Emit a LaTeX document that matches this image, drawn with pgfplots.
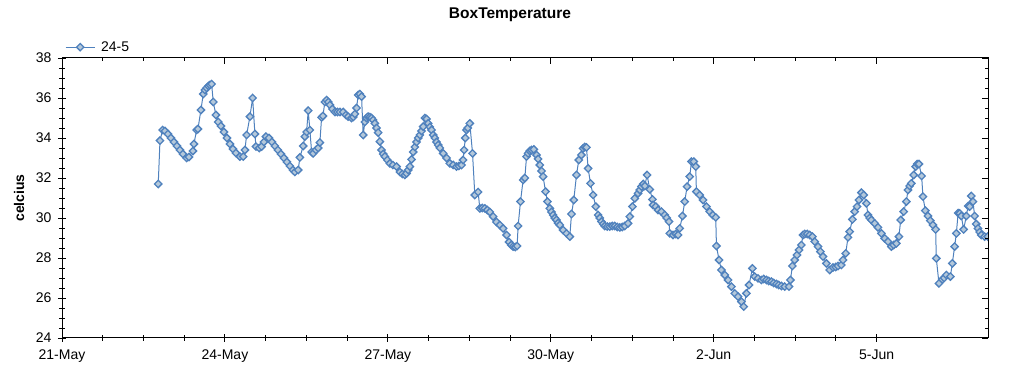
\documentclass[border=0pt]{standalone}
\usepackage{fontspec}
\setmainfont{Liberation Sans}
\usepackage{pgfplots}
\pgfplotsset{compat=1.18}
\definecolor{serline}{RGB}{79,129,189}
\definecolor{serfill}{RGB}{180,200,218}
\newcommand{\tickfont}{\fontsize{14bp}{16bp}\selectfont}
\newcommand{\titlefont}{\fontsize{15.5bp}{17bp}\selectfont\bfseries}
\begin{document}
\begin{tikzpicture}
\path[use as bounding box] (0bp,0bp) rectangle (1024bp,375bp);
\begin{axis}[
  at={(62bp,37bp)}, anchor=south west,
  scale only axis, width=926bp, height=280bp,
  xmin=0, xmax=17.05, ymin=24, ymax=38,
  xtick={0,3,6,9,12,15},
  xticklabels={21-May,24-May,27-May,30-May,2-Jun,5-Jun},
  minor x tick num=3,
  ytick={24,26,...,38}, minor y tick num=3,
  xtick pos=bottom, ytick pos=left, tick align=center,
  major tick length=8bp, minor tick length=6bp,
  tick style={black, line width=0.9bp},
  axis line style={black, line width=1bp},
  /pgf/number format/assume math mode=true,
  ticklabel style={font=\tickfont},
  xticklabel style={yshift=-4bp},
  yticklabel style={xshift=-3bp},
  ylabel={celcius},
  ylabel style={at={(axis description cs:-0.0464,0.5)}, anchor=center, font=\tickfont\bfseries},
  title={BoxTemperature},
  title style={at={(axis description cs:0.5,1)}, anchor=base, xshift=-15bp, yshift=34bp, font=\titlefont},
  legend style={at={(axis description cs:0,1)}, anchor=south west, draw=none, fill=none, font=\tickfont, yshift=1bp, column sep=4bp},
  legend image code/.code={\draw[mark repeat=2,mark phase=2,#1] plot coordinates {(0bp,0bp) (14.5bp,0bp) (29bp,0bp)};},
  clip marker paths=true,
]
\addplot[color=serline, line width=1bp, mark=square*, mark size=2.6bp,
  mark options={fill=serfill, draw=serline, line width=1.3bp, rotate=45}]
coordinates {
(1.772,31.7)(1.804,33.87)(1.853,34.4)(1.896,34.35)(1.951,34.2)(2.006,34.0)(2.061,33.8)(2.117,33.6)(2.172,33.4)(2.227,33.2)(2.295,33.0)(2.337,33.05)(2.411,33.35)(2.429,33.7)(2.479,34.4)(2.503,34.45)(2.558,35.4)(2.601,36.2)(2.632,36.4)(2.663,36.5)(2.696,36.6)(2.724,36.65)(2.755,36.7)(2.785,35.8)(2.834,35.15)(2.877,34.8)(2.926,34.6)(2.982,34.3)(3.037,34.0)(3.092,33.7)(3.147,33.45)(3.202,33.25)(3.276,33.07)(3.337,33.07)(3.368,33.4)(3.399,34.15)(3.460,35.07)(3.510,36.0)(3.552,34.2)(3.571,33.57)(3.631,33.5)(3.675,33.57)(3.718,33.8)(3.755,34.07)(3.810,34.0)(3.865,33.8)(3.920,33.6)(3.975,33.4)(4.031,33.2)(4.086,33.0)(4.141,32.8)(4.196,32.6)(4.252,32.4)(4.288,32.3)(4.349,32.4)(4.380,33.03)(4.441,33.6)(4.472,34.07)(4.504,34.3)(4.533,35.37)(4.564,34.4)(4.596,33.3)(4.625,33.23)(4.675,33.4)(4.717,33.5)(4.748,33.77)(4.780,35.03)(4.804,35.1)(4.840,35.8)(4.872,35.9)(4.905,35.8)(4.933,35.65)(4.979,35.45)(5.025,35.3)(5.071,35.3)(5.117,35.3)(5.177,35.3)(5.227,35.15)(5.269,35.07)(5.332,35.0)(5.365,35.05)(5.393,35.2)(5.424,35.5)(5.453,36.15)(5.485,36.2)(5.516,36.07)(5.545,34.15)(5.577,34.8)(5.608,35.0)(5.637,35.07)(5.669,35.05)(5.700,35.0)(5.729,34.9)(5.761,34.73)(5.792,34.5)(5.821,34.27)(5.853,33.82)(5.884,33.4)(5.914,33.2)(5.945,33.07)(5.991,32.9)(6.037,32.73)(6.092,32.65)(6.160,32.57)(6.221,32.3)(6.267,32.2)(6.313,32.15)(6.344,32.23)(6.374,32.4)(6.405,32.57)(6.436,32.93)(6.466,33.3)(6.497,33.55)(6.528,33.8)(6.558,34.0)(6.589,34.15)(6.620,34.35)(6.650,34.57)(6.681,35.0)(6.712,34.95)(6.742,34.73)(6.773,34.55)(6.804,34.4)(6.834,34.15)(6.865,34.0)(6.896,33.8)(6.926,33.65)(6.957,33.5)(7.018,33.23)(7.080,33.0)(7.141,32.73)(7.202,32.65)(7.264,32.57)(7.307,32.6)(7.356,32.65)(7.385,32.9)(7.404,33.4)(7.426,34.0)(7.448,34.4)(7.472,34.5)(7.509,34.73)(7.559,33.23)(7.601,31.15)(7.662,31.3)(7.693,30.48)(7.739,30.5)(7.785,30.48)(7.831,30.4)(7.877,30.3)(7.938,30.07)(8.000,29.8)(8.061,29.65)(8.122,29.48)(8.185,29.15)(8.232,28.8)(8.273,28.65)(8.306,28.57)(8.347,28.55)(8.380,28.6)(8.398,29.6)(8.442,30.82)(8.490,31.9)(8.522,32.0)(8.553,33.07)(8.582,33.23)(8.613,33.35)(8.645,33.4)(8.687,33.43)(8.737,33.15)(8.766,32.95)(8.798,32.65)(8.829,32.35)(8.858,32.07)(8.903,31.32)(8.939,30.82)(8.982,30.48)(9.013,30.3)(9.043,30.15)(9.074,30.0)(9.105,29.9)(9.134,29.75)(9.166,29.65)(9.226,29.4)(9.289,29.23)(9.350,29.07)(9.381,30.2)(9.423,30.9)(9.473,32.15)(9.515,32.9)(9.565,33.15)(9.594,33.48)(9.626,33.55)(9.657,33.53)(9.687,32.48)(9.731,31.73)(9.779,31.15)(9.828,30.57)(9.871,30.15)(9.902,30.0)(9.933,29.82)(9.963,29.7)(9.994,29.6)(10.040,29.57)(10.086,29.57)(10.132,29.6)(10.178,29.6)(10.224,29.55)(10.270,29.53)(10.316,29.55)(10.362,29.6)(10.423,29.73)(10.454,30.07)(10.504,30.57)(10.546,30.98)(10.607,31.23)(10.638,31.4)(10.669,31.57)(10.703,31.7)(10.730,31.6)(10.773,32.15)(10.822,31.43)(10.872,30.93)(10.883,30.65)(10.933,30.57)(10.974,30.4)(11.037,30.32)(11.098,30.15)(11.135,30.0)(11.177,29.82)(11.190,29.23)(11.251,29.15)(11.301,29.2)(11.343,29.15)(11.374,29.48)(11.424,30.1)(11.466,30.82)(11.509,31.57)(11.558,32.07)(11.590,32.82)(11.632,32.82)(11.669,32.57)(11.681,31.32)(11.742,31.15)(11.803,30.9)(11.866,30.57)(11.926,30.32)(11.982,30.15)(12.037,30.03)(12.050,28.6)(12.098,27.9)(12.142,27.4)(12.203,27.15)(12.263,26.9)(12.326,26.57)(12.387,26.23)(12.447,26.07)(12.510,25.82)(12.552,25.57)(12.602,26.23)(12.650,26.65)(12.712,27.48)(12.755,27.07)(12.815,26.98)(12.877,26.9)(12.920,26.95)(12.970,26.9)(13.012,26.85)(13.062,26.82)(13.104,26.75)(13.154,26.7)(13.196,26.65)(13.246,26.6)(13.307,26.57)(13.386,26.57)(13.412,26.9)(13.448,27.6)(13.491,27.9)(13.533,28.15)(13.570,28.4)(13.614,28.65)(13.644,29.15)(13.675,29.2)(13.721,29.2)(13.767,29.15)(13.817,29.07)(13.859,28.82)(13.920,28.57)(13.964,28.32)(14.012,28.07)(14.074,27.73)(14.135,27.4)(14.196,27.53)(14.245,27.55)(14.288,27.6)(14.350,27.65)(14.380,27.9)(14.430,28.23)(14.472,29.03)(14.503,29.32)(14.553,29.93)(14.595,30.32)(14.638,30.57)(14.674,30.9)(14.719,31.27)(14.761,31.15)(14.811,30.73)(14.840,30.15)(14.871,30.0)(14.902,29.9)(14.963,29.73)(15.024,29.53)(15.087,29.23)(15.147,28.98)(15.208,28.82)(15.271,28.57)(15.313,28.65)(15.363,28.73)(15.410,29.07)(15.442,29.9)(15.497,30.32)(15.547,30.82)(15.576,31.4)(15.607,31.6)(15.638,31.73)(15.681,32.15)(15.718,32.57)(15.745,32.7)(15.779,32.7)(15.828,32.1)(15.852,31.07)(15.896,30.37)(15.944,30.1)(15.988,29.87)(16.036,29.65)(16.086,29.43)(16.098,27.98)(16.147,26.73)(16.209,26.93)(16.242,27.0)(16.283,27.15)(16.357,27.07)(16.393,27.73)(16.435,28.57)(16.467,29.23)(16.500,30.25)(16.528,30.23)(16.559,30.1)(16.601,29.43)(16.651,30.1)(16.684,30.6)(16.712,30.57)(16.743,31.1)(16.773,30.82)(16.804,30.1)(16.832,29.7)(16.865,29.48)(16.896,29.3)(16.927,29.15)(16.988,29.07)(17.045,29.07)
};
\addlegendentry{24-5}
\end{axis}
\begin{axis}[
  at={(62bp,37bp)}, anchor=south west,
  scale only axis, width=926bp, height=280bp,
  xmin=0, xmax=17.05, ymin=24, ymax=38,
  xtick={0,3,6,9,12,15}, minor x tick num=3,
  ytick={24,26,...,38}, minor y tick num=3,
  xtick pos=top, ytick pos=right, tick align=inside,
  xticklabels={}, yticklabels={},
  major tick length=6bp, minor tick length=3bp,
  tick style={black, line width=0.9bp},
  axis line style={black, line width=1bp},
]
\end{axis}
\end{tikzpicture}
\end{document}
